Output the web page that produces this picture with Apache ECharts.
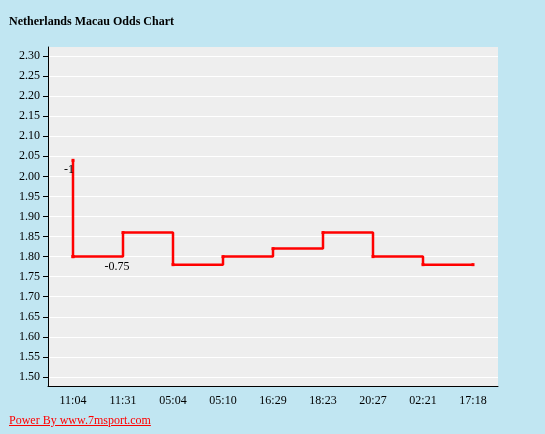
<!DOCTYPE html>
<html><head><meta charset="utf-8">
<script src="https://cdn.jsdelivr.net/npm/echarts@6/dist/echarts.min.js"></script>
<style>
body{margin:0;background:#c1e6f2;font-family:"Liberation Serif",serif;}
#c{width:545px;height:434px;}
#f{position:absolute;left:9px;top:413px;font-size:12px;color:red;text-decoration:underline;}
</style></head><body>
<div id="c"></div>
<a id="f">Power By www.7msport.com</a>
<script>
var times = ['11:04', '11:31', '05:04', '05:10', '16:29', '18:23', '20:27', '02:21', '17:18'];
var odds = [1.80, 1.86, 1.78, 1.80, 1.82, 1.86, 1.80, 1.78, 1.78];
var openOdds = 2.04;
var handicaps = ['-1', '-0.75'];
var yTicks = [1.50, 1.55, 1.60, 1.65, 1.70, 1.75, 1.80, 1.85, 1.90, 1.95, 2.00, 2.05, 2.10, 2.15, 2.20, 2.25, 2.30];

var myChart = echarts.init(document.getElementById('c'));
var font = 'Liberation Serif';
var lbl = {show: true, fontFamily: font, fontSize: 12, color: '#000'};
var option = {
    animation: false,
    title: {
        text: 'Netherlands Macau Odds Chart', left: 4, top: 11,
        textStyle: {fontFamily: font, fontSize: 12, fontWeight: 'bold', color: '#000'}
    },
    grid: {left: 48, right: 47, top: 47, bottom: 48, backgroundColor: '#eeeeee', show: true, borderWidth: 0},
    xAxis: {
        type: 'category', data: times,
        axisLine: {lineStyle: {color: '#000'}},
        axisTick: {alignWithLabel: true, lineStyle: {color: '#000'}},
        axisLabel: {fontFamily: font, fontSize: 12, color: '#000', margin: 9}
    },
    yAxis: {
        type: 'value', min: 1.4775, max: 2.3225,
        axisLine: {show: true, lineStyle: {color: '#000'}},
        axisTick: {show: true, customValues: yTicks, lineStyle: {color: '#000'}},
        axisLabel: {customValues: yTicks, fontFamily: font, fontSize: 12, color: '#000',
            formatter: function (v) { return v.toFixed(2); }},
        splitLine: {show: true, lineStyle: {color: '#fff', width: 1}}
    },
    series: [{
        type: 'line', step: 'end', data: odds,
        lineStyle: {color: 'red', width: 2.5},
        symbol: 'rect', symbolSize: 3, itemStyle: {color: 'red'},
        markPoint: {
            symbol: 'rect', symbolSize: 0,
            data: [{coord: [1, odds[0]], label: Object.assign({formatter: handicaps[1], offset: [-6, 10]}, lbl)}]
        }
    }, {
        type: 'line',
        data: [[0, openOdds], [0, odds[0]]],
        lineStyle: {color: 'red', width: 2.5},
        symbol: 'rect', symbolSize: 3, itemStyle: {color: 'red'},
        markPoint: {
            symbol: 'rect', symbolSize: 0,
            data: [{coord: [0, openOdds], label: Object.assign({formatter: handicaps[0], offset: [-4, 10]}, lbl)}]
        }
    }]
};
myChart.setOption(option);
</script>
</body></html>
